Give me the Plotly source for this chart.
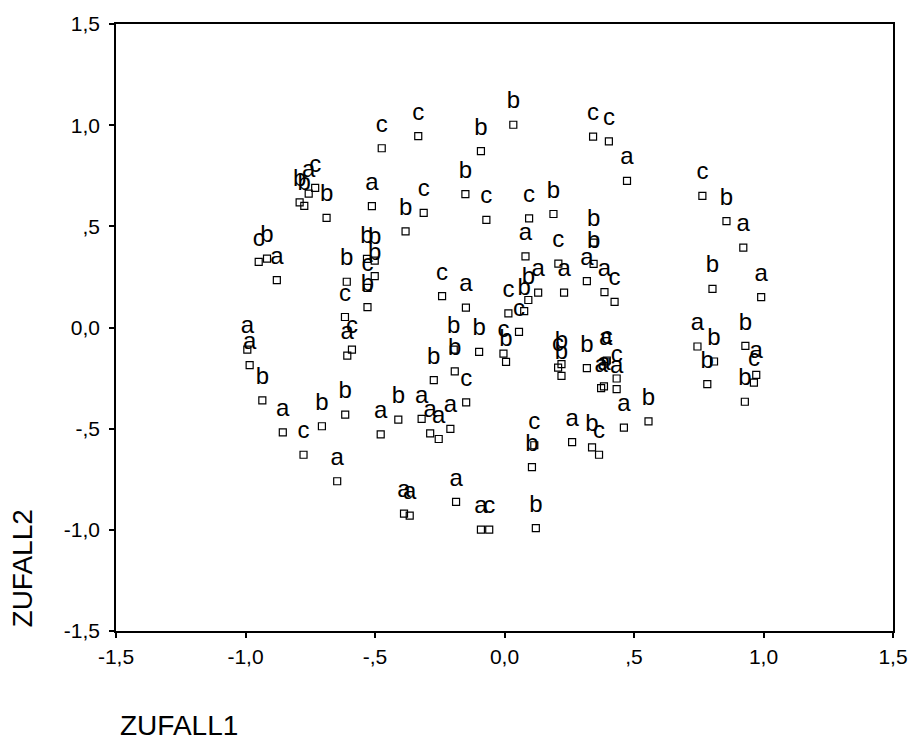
import plotly.graph_objects as go

# ZUFALL1 / ZUFALL2 coordinates with their group label (a, b, c)
zufall1 = [
    -0.474, -0.333, -0.791, -0.773, -0.756, -0.731, -0.687, -0.512, -0.312, -0.382,
    -0.949, -0.917, -0.879, -0.609, -0.616, -0.531, -0.501, -0.501, -0.529, -0.529,
    -0.241, -0.589, -0.607, -0.993, -0.984, -0.935, -0.856, -0.776, -0.705, -0.615,
    -0.646, -0.478, -0.410, -0.320, -0.287, -0.254, -0.209, -0.388, -0.366, -0.273,
    -0.187, -0.196, -0.192, -0.148, 0.034, -0.091, 0.342, 0.403, 0.473, -0.151,
    -0.070, 0.095, 0.189, 0.344, 0.344, 0.318, 0.386, 0.425, 0.081, 0.208,
    0.230, 0.130, 0.092, 0.076, 0.015, -0.149, 0.056, -0.098, -0.004, 0.006,
    0.207, 0.220, 0.220, 0.318, 0.391, 0.395, 0.373, 0.384, 0.433, 0.433,
    0.461, 0.556, 0.115, 0.106, 0.261, 0.338, 0.365, -0.091, -0.059, 0.121,
    0.764, 0.857, 0.922, 0.803, 0.991, 0.745, 0.809, 0.783, 0.930, 0.972,
    0.963, 0.928,
]
zufall2 = [
    0.886, 0.946, 0.618, 0.601, 0.662, 0.690, 0.542, 0.600, 0.567, 0.475,
    0.324, 0.340, 0.234, 0.226, 0.052, 0.339, 0.331, 0.254, 0.196, 0.101,
    0.155, -0.109, -0.139, -0.109, -0.186, -0.360, -0.518, -0.629, -0.488, -0.431,
    -0.760, -0.528, -0.455, -0.452, -0.523, -0.551, -0.501, -0.920, -0.930, -0.260,
    -0.862, -0.109, -0.217, -0.370, 1.002, 0.872, 0.943, 0.920, 0.725, 0.659,
    0.532, 0.539, 0.561, 0.419, 0.314, 0.229, 0.175, 0.127, 0.352, 0.316,
    0.172, 0.172, 0.136, 0.081, 0.070, 0.098, -0.022, -0.120, -0.129, -0.170,
    -0.198, -0.181, -0.239, -0.201, -0.168, -0.163, -0.300, -0.291, -0.252, -0.305,
    -0.495, -0.464, -0.582, -0.690, -0.567, -0.592, -0.629, -0.999, -0.999, -0.992,
    0.651, 0.526, 0.395, 0.191, 0.150, -0.094, -0.168, -0.280, -0.091, -0.234,
    -0.272, -0.367,
]
gruppe = [
    "c", "c", "b", "b", "a", "c", "b", "a", "c", "b",
    "c", "b", "a", "b", "c", "b", "b", "b", "c", "b",
    "c", "c", "a", "a", "a", "b", "a", "c", "b", "b",
    "a", "a", "b", "a", "a", "a", "a", "a", "a", "b",
    "a", "b", "b", "c", "b", "b", "c", "c", "a", "b",
    "c", "c", "b", "b", "b", "a", "a", "c", "a", "c",
    "a", "a", "b", "b", "c", "a", "c", "b", "c", "b",
    "c", "b", "b", "b", "a", "c", "a", "a", "c", "a",
    "a", "b", "c", "b", "a", "b", "c", "a", "c", "b",
    "c", "b", "a", "b", "a", "a", "b", "b", "b", "a",
    "c", "b",
]

tick_vals = [-1.5, -1.0, -0.5, 0.0, 0.5, 1.0, 1.5]
tick_text = ["-1,5", "-1,0", "-,5", "0,0", ",5", "1,0", "1,5"]

FONT = "Liberation Sans, Arial, sans-serif"

fig = go.Figure()

# group letters: an invisible, larger marker lifts each letter a little higher
fig.add_trace(go.Scatter(
    x=zufall1, y=zufall2, text=gruppe,
    mode="markers+text", textposition="top center",
    textfont=dict(family=FONT, size=24, color="black"),
    marker=dict(symbol="square", size=15, color="rgba(0,0,0,0)"),
    cliponaxis=False, showlegend=False, hoverinfo="skip",
))

# the data points themselves: small open squares
fig.add_trace(go.Scatter(
    x=zufall1, y=zufall2, mode="markers",
    marker=dict(symbol="square-open", size=7, color="black",
                line=dict(width=1.2, color="black")),
    cliponaxis=False, showlegend=False, hoverinfo="skip",
))

axis_common = dict(
    range=[-1.5, 1.5], tickvals=tick_vals, ticktext=tick_text,
    showgrid=False, zeroline=False,
    showline=True, linecolor="black", linewidth=1.5, mirror=True,
    ticks="outside", ticklen=5, tickwidth=1.5, tickcolor="black",
    tickfont=dict(family=FONT, size=21, color="black"),
)

fig.update_layout(
    width=920, height=742,
    margin=dict(l=116, r=22, t=22, b=111),
    paper_bgcolor="white", plot_bgcolor="white",
    xaxis=dict(**axis_common, ticklabelstandoff=1),
    yaxis=dict(**axis_common, ticklabelstandoff=5),
    annotations=[
        dict(text="ZUFALL1", xref="paper", yref="paper", x=0.002, y=-0.156,
             xanchor="left", yanchor="middle", showarrow=False,
             font=dict(family=FONT, size=28, color="black")),
        dict(text="ZUFALL2", xref="paper", yref="paper", x=-0.121, y=0.103,
             xanchor="center", yanchor="middle", textangle=-90, showarrow=False,
             font=dict(family=FONT, size=28, color="black")),
    ],
)

fig.write_html("out.html")
